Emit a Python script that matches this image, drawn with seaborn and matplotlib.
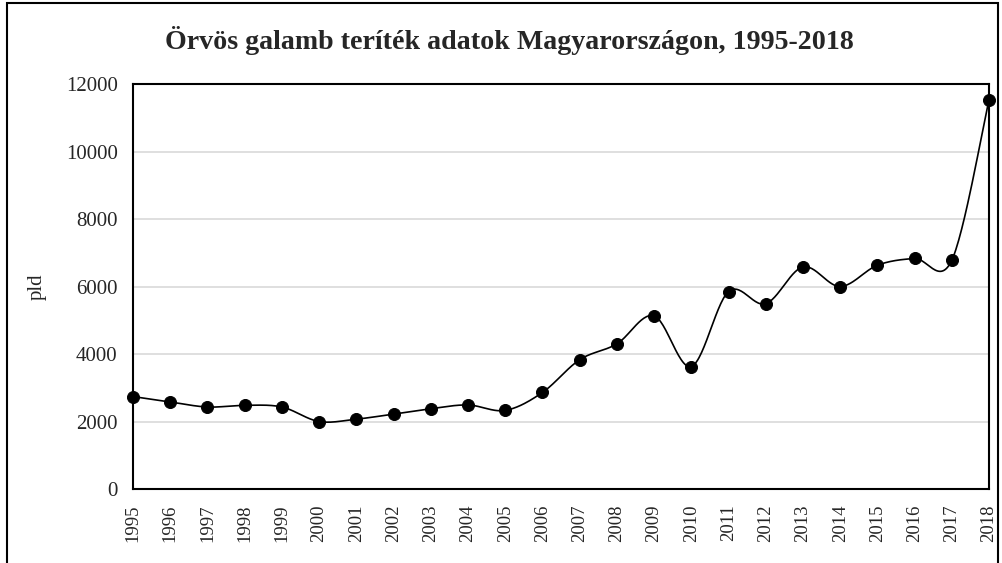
import numpy as np
import pandas as pd
import matplotlib
matplotlib.use('Agg')
import matplotlib.pyplot as plt
import seaborn as sns
from matplotlib.patches import Rectangle

sns.set_style('white')
plt.rcParams['font.family'] = ['Liberation Serif', 'DejaVu Serif']

# ── data ──────────────────────────────────────────────────────────────
years = [str(y) for y in range(1995, 2019)]
pld = [2740, 2580, 2430, 2480, 2430, 2000, 2070, 2220, 2380, 2490, 2330, 2860,
       3830, 4300, 5130, 3630, 5850, 5490, 6580, 6000, 6630, 6830, 6780, 11540]
yticks = [0, 2000, 4000, 6000, 8000, 10000, 12000]

df = pd.DataFrame({'pos': np.arange(len(years)), 'pld': pld})


# Excel-like smoothed line (cubic Bezier with Catmull-Rom handles)
def smooth(x, y, n=30):
    x = np.asarray(x, float)
    y = np.asarray(y, float)
    px = np.concatenate([[x[0]], x, [x[-1]]])
    py = np.concatenate([[y[0]], y, [y[-1]]])
    t = np.linspace(0, 1, n)[:, None]
    xs, ys = [], []
    for i in range(1, len(px) - 2):
        p0 = np.array([px[i], py[i]])
        p3 = np.array([px[i + 1], py[i + 1]])
        p1 = p0 + (np.array([px[i + 1], py[i + 1]]) - np.array([px[i - 1], py[i - 1]])) / 6
        p2 = p3 - (np.array([px[i + 2], py[i + 2]]) - p0) / 6
        b = ((1 - t) ** 3) * p0 + 3 * ((1 - t) ** 2) * t * p1 + 3 * (1 - t) * t ** 2 * p2 + t ** 3 * p3
        xs.append(b[:, 0])
        ys.append(b[:, 1])
    return np.concatenate(xs), np.concatenate(ys)


sx, sy = smooth(df['pos'], df['pld'])
curve = pd.DataFrame({'x': sx, 'y': sy})

fig = plt.figure(figsize=(10.03, 5.63), dpi=100)
ax = fig.add_axes([0.1326, 0.1314, 0.8535, 0.7194])

sns.lineplot(data=curve, x='x', y='y', ax=ax, color='black', lw=1.2,
             sort=False, estimator=None, zorder=3)
sns.scatterplot(data=df, x='pos', y='pld', ax=ax, color='black', s=75,
                edgecolor='black', zorder=4, clip_on=False)

ax.set_xlim(0, len(years) - 1)
ax.set_ylim(0, 12000)
ax.set_yticks(yticks)
ax.set_yticklabels([str(v) for v in yticks], fontsize=15)
ax.set_xticks(df['pos'])
ax.set_xticklabels(years, rotation=90, fontsize=13.5)
ax.tick_params(axis='y', length=0, pad=11)
ax.tick_params(axis='x', length=0, pad=11)
ax.yaxis.grid(True, color='#d9d9d9', lw=1.2)
ax.set_axisbelow(True)
for s in ax.spines.values():
    s.set_color('black')
    s.set_linewidth(1.5)

ax.set_xlabel('')
ax.set_ylabel('pld', fontsize=15)
ax.yaxis.set_label_coords(-0.101, 0.5)
fig.text(0.508, 0.928, 'Örvös galamb teríték adatok Magyarországon, 1995-2018',
         ha='center', va='center', fontsize=20.2, fontweight='bold')

# outer chart frame
fig.patches.append(Rectangle((0.007, -0.05), 0.988, 1.045, transform=fig.transFigure,
                             fill=False, edgecolor='black', lw=1.5))

fig.savefig('out.png', dpi=100)
